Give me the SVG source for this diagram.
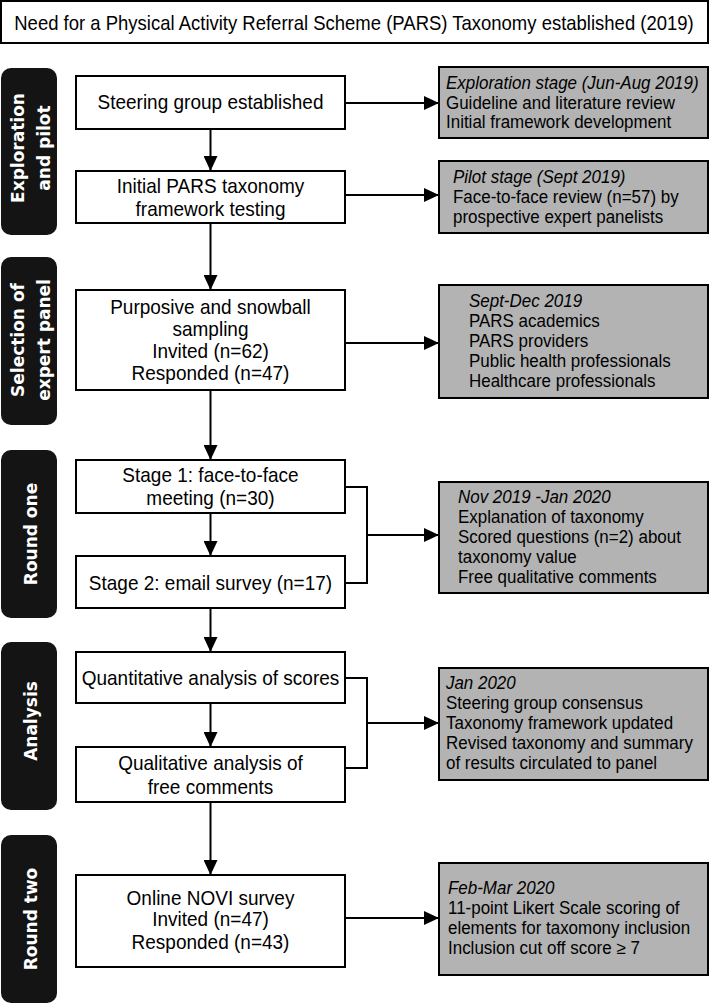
<svg xmlns="http://www.w3.org/2000/svg" width="710" height="1004" viewBox="0 0 710 1004">
<defs>
<style>
.box{fill:#fff;stroke:#000;stroke-width:2}
.gbox{fill:#b3b3b3;stroke:#000;stroke-width:2}
.pill{fill:#141414}
.t{font-family:"Liberation Sans",Arial,sans-serif;font-size:20px;fill:#000;text-anchor:middle;transform-box:fill-box;transform-origin:center;transform:scaleX(0.95)}
.tt{font-size:20px;transform:scaleX(0.925)}
.g{font-family:"Liberation Sans",Arial,sans-serif;font-size:17.5px;fill:#000;transform-box:fill-box;transform-origin:left center;transform:scaleX(0.97)}
.gi{font-style:italic}
.p{font-family:"DejaVu Sans",sans-serif;font-weight:bold;font-size:17px;fill:#fff;text-anchor:middle}
.ln{fill:none;stroke:#000;stroke-width:2}
</style>
<marker id="ah" markerWidth="15" markerHeight="14" refX="15" refY="7" orient="auto" markerUnits="userSpaceOnUse">
<path d="M0,0 L15,7 L0,14 Z" fill="#000"/>
</marker>
</defs>
<g id="title">
<rect x="1" y="1" width="707" height="42" class="box"/>
<text x="354" y="30" class="t tt">Need for a Physical Activity Referral Scheme (PARS) Taxonomy established (2019)</text>
</g>
<g id="pill-exploration">
<rect x="1" y="68" width="56" height="167" rx="10" class="pill"/>
<text class="p" transform="translate(24,148) rotate(-90)">Exploration</text>
<text class="p" transform="translate(50,148) rotate(-90)">and pilot</text>
</g>
<g id="pill-selection">
<rect x="1" y="257" width="56" height="168" rx="10" class="pill"/>
<text class="p" transform="translate(24,340) rotate(-90)">Selection of</text>
<text class="p" transform="translate(50,340) rotate(-90)">expert panel</text>
</g>
<g id="pill-round-one">
<rect x="1" y="450" width="56" height="168" rx="10" class="pill"/>
<text class="p" transform="translate(37,534) rotate(-90)">Round one</text>
</g>
<g id="pill-analysis">
<rect x="1" y="642" width="56" height="168" rx="10" class="pill"/>
<text class="p" transform="translate(37,721) rotate(-90)">Analysis</text>
</g>
<g id="pill-round-two">
<rect x="1" y="835" width="56" height="168" rx="10" class="pill"/>
<text class="p" transform="translate(37,919) rotate(-90)">Round two</text>
</g>
<g id="b1"><rect x="76" y="76" width="269" height="53" class="box"/>
<text x="210.5" y="109" class="t">Steering group established</text></g>
<g id="b2"><rect x="76" y="171" width="269" height="52" class="box"/>
<text x="210.5" y="193" class="t">Initial PARS taxonomy</text>
<text x="210.5" y="216" class="t">framework testing</text></g>
<g id="b3"><rect x="76" y="290" width="269" height="100" class="box"/>
<text x="210.5" y="314" class="t">Purposive and snowball</text>
<text x="210.5" y="336" class="t">sampling</text>
<text x="210.5" y="358" class="t">Invited (n=62)</text>
<text x="210.5" y="380" class="t">Responded (n=47)</text></g>
<g id="b4"><rect x="76" y="460" width="269" height="53" class="box"/>
<text x="210.5" y="482" class="t">Stage 1: face-to-face</text>
<text x="210.5" y="505" class="t">meeting (n=30)</text></g>
<g id="b5"><rect x="76" y="556" width="269" height="52" class="box"/>
<text x="210.5" y="590" class="t">Stage 2: email survey (n=17)</text></g>
<g id="b6"><rect x="76" y="652" width="269" height="51" class="box"/>
<text x="210.5" y="685" class="t">Quantitative analysis of scores</text></g>
<g id="b7"><rect x="76" y="747" width="269" height="55" class="box"/>
<text x="210.5" y="770" class="t">Qualitative analysis of</text>
<text x="210.5" y="794" class="t">free comments</text></g>
<g id="b8"><rect x="76" y="875" width="269" height="92" class="box"/>
<text x="210.5" y="905" class="t">Online NOVI survey</text>
<text x="210.5" y="926" class="t">Invited (n=47)</text>
<text x="210.5" y="949" class="t">Responded (n=43)</text></g>
<g id="g1"><rect x="439" y="67" width="269" height="71" class="gbox"/>
<text x="446" y="89" class="g gi">Exploration stage (Jun-Aug 2019)</text>
<text x="446" y="109" class="g">Guideline and literature review</text>
<text x="446" y="128" class="g">Initial framework development</text></g>
<g id="g2"><rect x="439" y="161" width="269" height="72" class="gbox"/>
<text x="453" y="183" class="g gi">Pilot stage (Sept 2019)</text>
<text x="453" y="203" class="g">Face-to-face review  (n=57) by</text>
<text x="453" y="223" class="g">prospective expert panelists</text></g>
<g id="g3"><rect x="439" y="285" width="269" height="113" class="gbox"/>
<text x="469" y="307" class="g gi">Sept-Dec 2019</text>
<text x="469" y="327" class="g">PARS academics</text>
<text x="469" y="347" class="g">PARS providers</text>
<text x="469" y="367" class="g">Public health professionals</text>
<text x="469" y="387" class="g">Healthcare professionals</text></g>
<g id="g4"><rect x="439" y="482" width="269" height="111" class="gbox"/>
<text x="458" y="503" class="g gi">Nov 2019 -Jan 2020</text>
<text x="458" y="523" class="g">Explanation of taxonomy</text>
<text x="458" y="543" class="g">Scored questions (n=2) about</text>
<text x="458" y="563" class="g">taxonomy value</text>
<text x="458" y="583" class="g">Free qualitative comments</text></g>
<g id="g5"><rect x="439" y="668" width="269" height="112" class="gbox"/>
<text x="446" y="689" class="g gi">Jan 2020</text>
<text x="446" y="709" class="g">Steering group consensus</text>
<text x="446" y="729" class="g">Taxonomy framework updated</text>
<text x="446" y="749" class="g">Revised taxonomy and summary</text>
<text x="446" y="769" class="g">of results circulated to panel</text></g>
<g id="g6"><rect x="439" y="863" width="269" height="112" class="gbox"/>
<text x="448" y="894" class="g gi">Feb-Mar 2020</text>
<text x="448" y="914" class="g">11-point Likert Scale scoring of</text>
<text x="448" y="934" class="g">elements for taxomony inclusion</text>
<text x="448" y="954" class="g">Inclusion cut off score ≥ 7</text></g>
<g id="connectors" class="ln">
<line x1="210.5" y1="129" x2="210.5" y2="171" marker-end="url(#ah)"/>
<line x1="210.5" y1="223" x2="210.5" y2="290" marker-end="url(#ah)"/>
<line x1="210.5" y1="390" x2="210.5" y2="460" marker-end="url(#ah)"/>
<line x1="210.5" y1="513" x2="210.5" y2="556" marker-end="url(#ah)"/>
<line x1="210.5" y1="608" x2="210.5" y2="652" marker-end="url(#ah)"/>
<line x1="210.5" y1="703" x2="210.5" y2="747" marker-end="url(#ah)"/>
<line x1="210.5" y1="802" x2="210.5" y2="875" marker-end="url(#ah)"/>
<line x1="345" y1="103" x2="439" y2="103" marker-end="url(#ah)"/>
<line x1="345" y1="195" x2="439" y2="195" marker-end="url(#ah)"/>
<line x1="345" y1="343" x2="439" y2="343" marker-end="url(#ah)"/>
<polyline points="345,487 367,487 367,583 345,583"/>
<line x1="367" y1="535" x2="439" y2="535" marker-end="url(#ah)"/>
<polyline points="345,678 367,678 367,768 345,768"/>
<line x1="367" y1="723" x2="439" y2="723" marker-end="url(#ah)"/>
<line x1="345" y1="918" x2="439" y2="918" marker-end="url(#ah)"/>
</g>
</svg>
